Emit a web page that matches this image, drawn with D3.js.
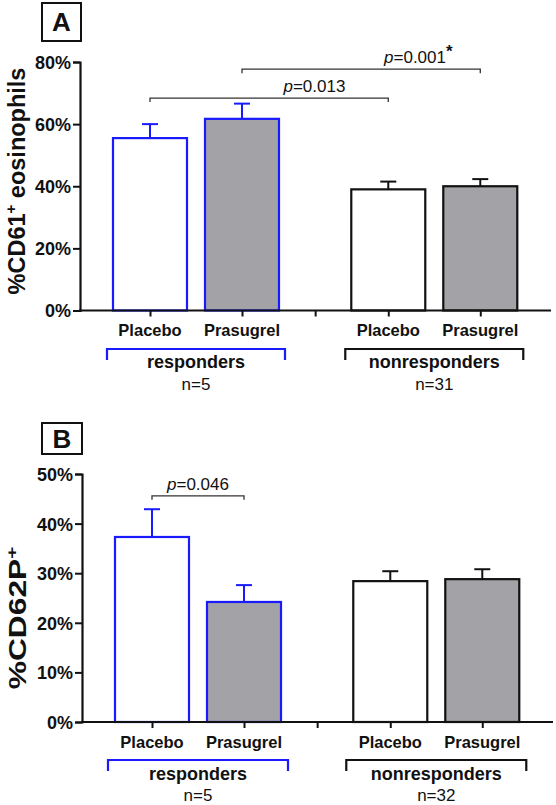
<!DOCTYPE html>
<html>
<head>
<meta charset="utf-8">
<script src="https://cdn.jsdelivr.net/npm/d3@7"></script>
<style>
  html, body { margin: 0; padding: 0; background: #fff; }
  svg { display: block; font-family: "Liberation Sans", Arial, Helvetica, sans-serif; }
</style>
</head>
<body>
<svg id="chart" width="556" height="805"></svg>
<script>
// ---------------- data ----------------
const groups = ["responders", "nonresponders"];
const treatments = ["Placebo", "Prasugrel"];
const nA = ["n=5", "n=31"];
const nB = ["n=5", "n=32"];
// bars in order: resp-Placebo, resp-Prasugrel, nonresp-Placebo, nonresp-Prasugrel
const cd61Mean = [55.5, 61.7, 39.0, 40.0];
const cd61Sem  = [4.5, 4.9, 2.5, 2.3];
const cd62pMean = [37.3, 24.2, 28.4, 28.8];
const cd62pSem  = [5.6, 3.4, 2.0, 2.0];
const cd61Ticks = [0, 20, 40, 60, 80];
const cd62pTicks = [0, 10, 20, 30, 40, 50];
// significance brackets: bar index from/to, level (in axis units), p label, starred
const sigA = [
  { from: 0, to: 2, level: 68.4, p: "0.013", star: false },
  { from: 1, to: 3, level: 77.7, p: "0.001", star: true }
];
const sigB = [
  { from: 0, to: 1, level: 45.6, p: "0.046", star: false }
];

// ---------------- style ----------------
const BLUE = "#1a1aff";
const GRAY = "#a3a2a7";
const INK = "#111";
const FONT = '"Liberation Sans", Arial, Helvetica, sans-serif';

const svg = d3.select("#chart");

function drawPanel(cfg) {
  const g = svg.append("g");
  const y = d3.scaleLinear().domain([0, cfg.yMax]).range([cfg.yBottom, cfg.yTop]);
  // slot scale: one unit = distance between bars in a group
  const x = d3.scaleLinear().domain([0, 1]).range([cfg.firstCenter, cfg.firstCenter + cfg.unit]);
  const groupStride = 2.59, gapSlot = 1.795;
  const slots = [];
  groups.forEach((gr, gi) => treatments.forEach((t, ti) => slots.push(gi * groupStride + ti)));
  const bw = cfg.barWidth;

  // panel letter box
  g.append("rect").attr("x", cfg.boxX).attr("y", cfg.boxY).attr("width", cfg.boxW).attr("height", cfg.boxH)
    .attr("fill", "none").attr("stroke", INK).attr("stroke-width", 2);
  g.append("text").attr("x", cfg.boxX + cfg.boxW / 2).attr("y", cfg.boxY + cfg.boxH / 2 + 9)
    .attr("text-anchor", "middle").attr("font-weight", "bold").attr("font-size", 26).attr("fill", INK)
    .text(cfg.letter);

  // bars
  const bars = cfg.mean.map((m, i) => ({ m, e: cfg.sem[i], slot: slots[i], grp: Math.floor(i / 2), trt: i % 2 }));
  bars.forEach(d => {
    const col = d.grp === 0 ? BLUE : INK;
    const cx = x(d.slot);
    g.append("line").attr("x1", cx).attr("x2", cx).attr("y1", y(d.m)).attr("y2", y(d.m + d.e))
      .attr("stroke", col).attr("stroke-width", 2);
    g.append("line").attr("x1", cx - 8).attr("x2", cx + 8).attr("y1", y(d.m + d.e)).attr("y2", y(d.m + d.e))
      .attr("stroke", col).attr("stroke-width", 2);
  });
  g.selectAll("rect.bar").data(bars).join("rect").attr("class", "bar")
    .attr("x", d => x(d.slot) - bw / 2).attr("width", bw)
    .attr("y", d => y(d.m)).attr("height", d => y(0) - y(d.m))
    .attr("fill", d => d.trt === 0 ? "#fff" : GRAY)
    .attr("stroke", d => d.grp === 0 ? BLUE : INK).attr("stroke-width", 2.2);

  // y axis
  const ya = d3.axisLeft(y).tickValues(cfg.ticks).tickFormat(d => d + "%").tickSize(7).tickPadding(2);
  const yg = g.append("g").attr("transform", `translate(${cfg.axisX},0)`).call(ya);
  yg.select(".domain").attr("stroke", INK).attr("stroke-width", 2.2);
  yg.selectAll(".tick line").attr("stroke", INK).attr("stroke-width", 2);
  yg.selectAll(".tick text").attr("font-family", FONT).attr("font-weight", "bold").attr("font-size", 18)
    .attr("fill", INK).attr("dy", "0.36em");

  // x axis
  const xa = d3.axisBottom(x).tickValues([0, 1, gapSlot, groupStride, groupStride + 1]).tickFormat("").tickSize(6).tickSizeOuter(0);
  const xg = g.append("g").attr("transform", `translate(0,${cfg.yBottom})`).call(xa);
  xg.select(".domain").remove();
  xg.selectAll(".tick line").attr("stroke", INK).attr("stroke-width", 2);
  g.append("line").attr("x1", cfg.axisX - 1).attr("x2", cfg.axisRight).attr("y1", cfg.yBottom).attr("y2", cfg.yBottom)
    .attr("stroke", INK).attr("stroke-width", 2.2);

  // category labels
  bars.forEach(d => {
    g.append("text").attr("x", x(d.slot)).attr("y", cfg.catY).attr("text-anchor", "middle")
      .attr("font-weight", "bold").attr("font-size", 16.5).attr("fill", INK).text(treatments[d.trt]);
  });

  // group brackets
  groups.forEach((gr, gi) => {
    const col = gi === 0 ? BLUE : INK;
    const x1 = x(gi * groupStride) - cfg.grpExt, x2 = x(gi * groupStride + 1) + cfg.grpExt;
    const yb = cfg.grpY;
    g.append("path").attr("d", `M${x1},${yb + 11}V${yb}H${x2}V${yb + 11}`)
      .attr("fill", "none").attr("stroke", col).attr("stroke-width", 2.2);
    const cx = (x1 + x2) / 2;
    g.append("text").attr("x", cx).attr("y", cfg.grpTextY).attr("text-anchor", "middle")
      .attr("font-weight", "bold").attr("font-size", 18).attr("fill", INK).text(gr);
    g.append("text").attr("x", cx).attr("y", cfg.nY).attr("text-anchor", "middle")
      .attr("font-size", 17).attr("fill", INK).text(cfg.n[gi]);
  });

  // significance brackets
  cfg.sig.forEach((s, si) => {
    const x1 = x(slots[s.from]), x2 = x(slots[s.to]), yy = y(s.level);
    g.append("path").attr("d", `M${x1},${yy + 4}V${yy}H${x2}V${yy + 4}`)
      .attr("fill", "none").attr("stroke", "#333").attr("stroke-width", 1.3);
    const tx = x1 + (x2 - x1) * cfg.sigFrac[si];
    const t = g.append("text").attr("x", tx).attr("y", yy - 6).attr("text-anchor", "middle")
      .attr("font-size", 17).attr("fill", INK);
    t.append("tspan").attr("font-style", "italic").text("p");
    t.append("tspan").text("=" + s.p);
    if (s.star) t.append("tspan").attr("dy", -6).attr("font-size", 17).attr("font-weight", "bold").text("*");
  });

  // y title
  const tt = g.append("text")
    .attr("transform", `translate(${cfg.titleX},${cfg.titleY}) rotate(-90) scale(${cfg.titleStretch},1)`)
    .attr("text-anchor", "middle").attr("font-weight", "bold").attr("font-size", cfg.titleSize).attr("fill", INK);
  tt.append("tspan").text(cfg.titleMain);
  tt.append("tspan").attr("dy", -9).attr("font-size", 15).text("+");
  if (cfg.titleRest) tt.append("tspan").attr("dy", 9).text(cfg.titleRest);
}

drawPanel({
  letter: "A", boxX: 42, boxY: 3, boxW: 39, boxH: 38,
  yMax: 80, yTop: 62, yBottom: 310.5, ticks: cd61Ticks,
  axisX: 80, axisRight: 551, firstCenter: 150, unit: 92, barWidth: 74,
  mean: cd61Mean, sem: cd61Sem, sig: sigA, sigFrac: [0.69, 0.74],
  catY: 336, grpY: 349, grpExt: 43, grpTextY: 368, nY: 390, n: nA,
  titleX: 25, titleY: 181, titleSize: 23.5, titleStretch: 1,
  titleMain: "%CD61", titleRest: " eosinophils"
});

drawPanel({
  letter: "B", boxX: 42, boxY: 423, boxW: 40, boxH: 31,
  yMax: 50, yTop: 474, yBottom: 722, ticks: cd62pTicks,
  axisX: 82, axisRight: 553, firstCenter: 152, unit: 92, barWidth: 74,
  mean: cd62pMean, sem: cd62pSem, sig: sigB, sigFrac: [0.5],
  catY: 748, grpY: 760, grpExt: 44, grpTextY: 780, nY: 801, n: nB,
  titleX: 26, titleY: 618, titleSize: 23, titleStretch: 1.38,
  titleMain: "%CD62P", titleRest: null
});
</script>
</body>
</html>
